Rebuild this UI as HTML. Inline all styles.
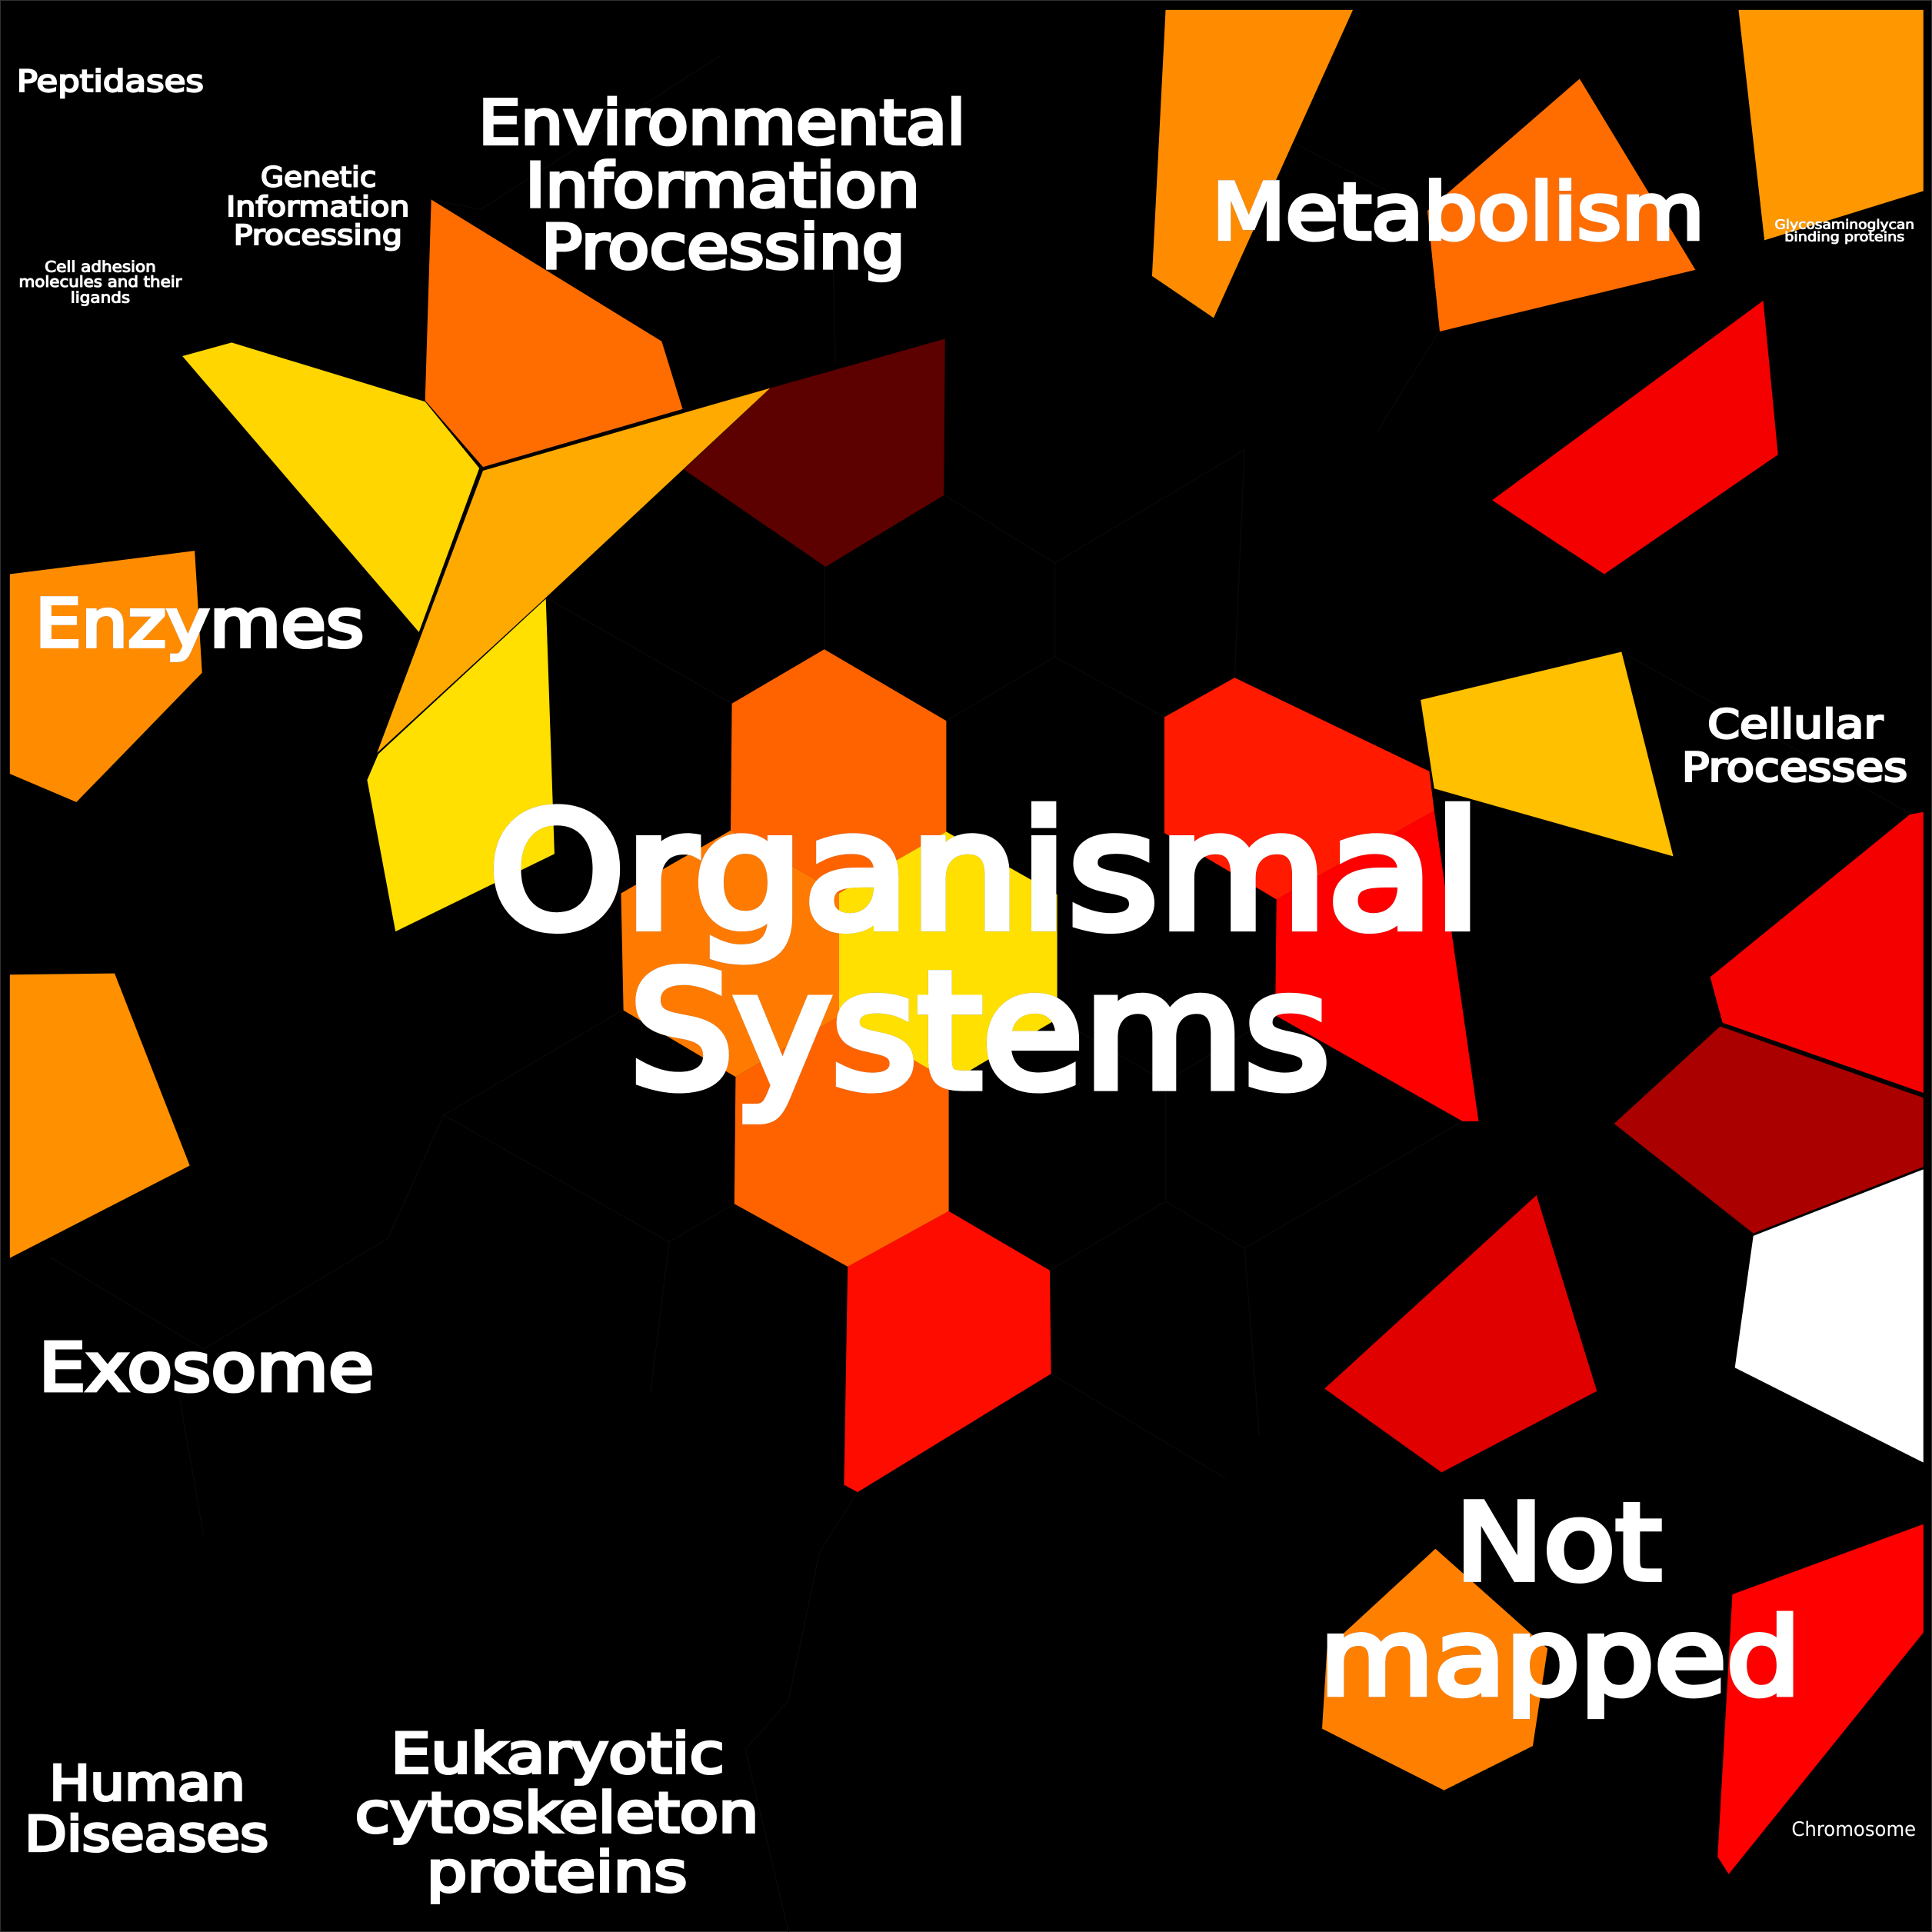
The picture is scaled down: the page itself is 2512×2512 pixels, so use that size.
<!DOCTYPE html>
<html>
<head>
<meta charset="utf-8">
<style>
html,body{margin:0;padding:0;background:#000}
svg{display:block}
text{font-family:"DejaVu Sans","Liberation Sans",sans-serif;font-weight:normal;fill:#fff;stroke:#fff;stroke-linejoin:miter;stroke-miterlimit:3;text-rendering:geometricPrecision}
.t{filter:drop-shadow(.6px .6px 0 #222)}
</style>
</head>
<body>
<svg xmlns="http://www.w3.org/2000/svg" width="2512" height="2512" viewBox="0 0 1568 1568">
<rect x="0" y="0" width="1568" height="1568" fill="#000" stroke="#333" stroke-width="1.2"/>
<g fill="none" stroke="#090909" stroke-width=".8">
<path d="M594,571 443,485M669,527V460M768,585 856,533 945,582M856,533V457L767,402M856,457 1010,365 1002,550M1168,269 1118,350M1050,116 1155,170"/>
<path d="M505,820 360,905 543,1008 596,977M543,1008 528,1130M858,827 946,878V975L852,1031M946,975 1010,1013 1187,910M1010,1013 1022,1165M853,1115 995,1200M1035,824 946,878"/>
<path d="M350,162 390,170 585,45M676,210 678,295M696,1211 665,1260 640,1380 605,1420 640,1568M360,905 315,1005 165,1095 40,1020M145,1130 165,1245M1316,529 1550,660"/>
</g>
<g stroke="none">
<polygon fill="#ff8c00" points="946,8 1098,8 985,258 935,224"/>
<polygon fill="#ff9800" points="1411,8 1561,8 1561,155 1432,195"/>
<polygon fill="#ff6d00" points="1282,64 1376,219 1168.5,269 1158.5,171"/>
<polygon fill="#f50000" points="1431,244 1443,369 1302,466 1211,406"/>
<polygon fill="#5c0000" points="767,275 766,402 670,460 555,381 625,315"/>
<polygon fill="#ff6d00" points="350,162 537,277 554,332 392,379 345,325"/>
<polygon fill="#ffd600" points="148,289 188,278 345,326 389,380 340,513"/>
<polygon fill="#ffaa00" points="625,315 392,382 306,611 443,485"/>
<polygon fill="#ffe000" points="443,486 450,693 321,756 298,633 307,612"/>
<polygon fill="#ff8c00" points="8,466 158,447 164,546 62,651 8,628"/>
<polygon fill="#ff9000" points="8,791 93,790 154,946 8,1021"/>
<polygon fill="#ff6300" points="669,527 768,585 768,675 681,725 593,674 594,571"/>
<polygon fill="#ff7a00" points="593,674 681,725 681,825 597,874 506,820 504,725"/>
<polygon fill="#ffe000" points="768,675 858,726 858,827 780,873 770,877 681,825 681,725"/>
<polygon fill="#ff6300" points="597,874 681,825 770,877 770,983 688,1028 596,977"/>
<polygon fill="#ff0c00" points="770,983 852,1031 853,1115 696,1211 685,1205 688,1028"/>
<polygon fill="#ff1a00" points="1002,550 1160,626 1164,658 1036,730 945,676 945,582"/>
<polygon fill="#ff0000" points="1164,658 1200,910 1187,910 1035,824 1036,730"/>
<polygon fill="#ffc000" points="1153,568 1316,529 1358,695 1164,640"/>
<polygon fill="#f50000" points="1561,659 1561,887 1398,830 1388,793 1550,661"/>
<polygon fill="#aa0000" points="1396,833 1561,891 1561,947 1423,1001 1310,912"/>
<polygon fill="#ffffff" points="1423,1003 1561,949 1561,1187 1408,1110"/>
<polygon fill="#e00000" points="1247,970 1296,1129 1170,1195 1075,1127"/>
<polygon fill="#ff8000" points="1165,1257 1256,1338 1244,1417 1172,1453 1073,1403 1077,1338"/>
<polygon fill="#ff0000" points="1561,1237 1561,1325 1403,1521 1394,1507 1406,1294"/>
</g>
<g class="t">
<text x="13.6" y="74.4" font-size="24.5" stroke-width="1.3" textLength="151.7" lengthAdjust="spacingAndGlyphs">Peptidases</text>
<text x="388.3" y="116.7" font-size="49.5" stroke-width="2.7" textLength="395.3" lengthAdjust="spacingAndGlyphs">Environmental</text>
<text x="426.3" y="167.7" font-size="49.5" stroke-width="2.7" textLength="320.3" lengthAdjust="spacingAndGlyphs">Information</text>
<text x="439.3" y="217.7" font-size="49.5" stroke-width="2.7" textLength="295.3" lengthAdjust="spacingAndGlyphs">Processing</text>
<text x="211.6" y="151.4" font-size="22.5" stroke-width="1.2" textLength="93.8" lengthAdjust="spacingAndGlyphs">Genetic</text>
<text x="183.6" y="175.4" font-size="22.5" stroke-width="1.2" textLength="148.8" lengthAdjust="spacingAndGlyphs">Information</text>
<text x="189.6" y="198.4" font-size="22.5" stroke-width="1.2" textLength="136.8" lengthAdjust="spacingAndGlyphs">Processing</text>
<text x="36.3" y="220.7" font-size="12.2" stroke-width=".65" textLength="90.3" lengthAdjust="spacingAndGlyphs">Cell adhesion</text>
<text x="15.3" y="232.7" font-size="12.2" stroke-width=".65" textLength="132.3" lengthAdjust="spacingAndGlyphs">molecules and their</text>
<text x="57.3" y="245.7" font-size="12.2" stroke-width=".65" textLength="48.3" lengthAdjust="spacingAndGlyphs">ligands</text>
<text x="983.7" y="193.7" font-size="63" stroke-width="3.4" textLength="399.6" lengthAdjust="spacingAndGlyphs">Metabolism</text>
<text x="1440.3" y="185.7" font-size="10.4" stroke-width=".55" textLength="113.4" lengthAdjust="spacingAndGlyphs">Glycosaminoglycan</text>
<text x="1448.3" y="195.7" font-size="10.4" stroke-width=".55" textLength="97.4" lengthAdjust="spacingAndGlyphs">binding proteins</text>
<text x="28.5" y="524.5" font-size="54" stroke-width="2.9" textLength="267" lengthAdjust="spacingAndGlyphs">Enzymes</text>
<text x="1385.9" y="599" font-size="32.4" stroke-width="1.75" textLength="142.2" lengthAdjust="spacingAndGlyphs">Cellular</text>
<text x="1364.9" y="634" font-size="32.4" stroke-width="1.75" textLength="183.2" lengthAdjust="spacingAndGlyphs">Processes</text>
<text x="396.5" y="752.5" font-size="130" stroke-width="7" textLength="806" lengthAdjust="spacingAndGlyphs">Organismal</text>
<text x="510.5" y="882" font-size="130" stroke-width="7" textLength="569" lengthAdjust="spacingAndGlyphs">Systems</text>
<text x="31.5" y="1128.5" font-size="54" stroke-width="2.9" textLength="272" lengthAdjust="spacingAndGlyphs">Exosome</text>
<text x="1181" y="1281.7" font-size="86" stroke-width="4.5" textLength="167.5" lengthAdjust="spacingAndGlyphs">Not</text>
<text x="1071" y="1375" font-size="86" stroke-width="4.5" textLength="390.5" lengthAdjust="spacingAndGlyphs">mapped</text>
<text x="40" y="1461" font-size="39.6" stroke-width="2.1" textLength="159" lengthAdjust="spacingAndGlyphs">Human</text>
<text x="20" y="1502" font-size="39.6" stroke-width="2.1" textLength="198" lengthAdjust="spacingAndGlyphs">Diseases</text>
<text x="317.2" y="1438.8" font-size="45" stroke-width="2.4" textLength="270.6" lengthAdjust="spacingAndGlyphs">Eukaryotic</text>
<text x="288.2" y="1486.8" font-size="45" stroke-width="2.4" textLength="327.6" lengthAdjust="spacingAndGlyphs">cytoskeleton</text>
<text x="346.2" y="1534.8" font-size="45" stroke-width="2.4" textLength="211.6" lengthAdjust="spacingAndGlyphs">proteins</text>
<text x="1454" y="1490" font-size="16" textLength="101" lengthAdjust="spacingAndGlyphs" style="stroke:none">Chromosome</text>
</g>
</svg>
</body>
</html>
